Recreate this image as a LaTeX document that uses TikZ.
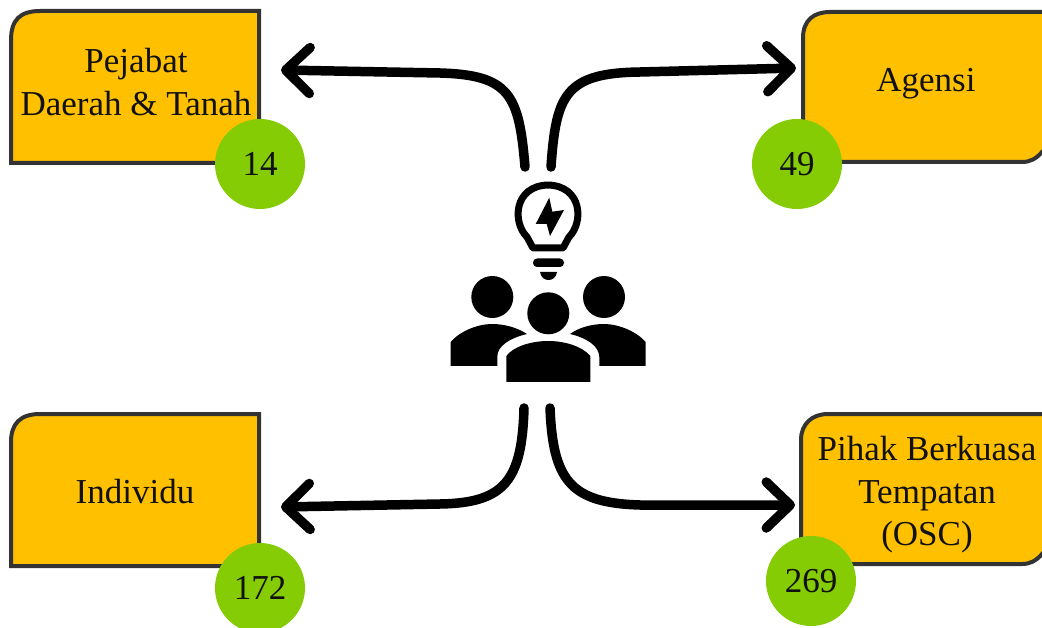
\documentclass[tikz,border=0pt]{standalone}
\usepackage{fontspec}
\setmainfont{Liberation Serif}
\usetikzlibrary{arrows.meta}
\definecolor{boxfill}{HTML}{FFC000}
\definecolor{boxline}{HTML}{333333}
\definecolor{badge}{HTML}{85CC05}
\definecolor{ink}{HTML}{111111}
\tikzset{
  x=1pt,y=-1pt,
  boxshape/.style={draw=boxline,fill=boxfill,line width=4pt,line join=miter},
  boxtext/.style={text=ink,font=\fontsize{35}{42.5}\selectfont,align=center,inner sep=0pt},
  badgenode/.style={circle,fill=badge,minimum size=90pt,inner sep=0pt,text=ink,font=\fontsize{35}{40}\selectfont},
  flow/.style={draw=black,line width=9.5pt,line cap=round,-{Straight Barb[length=24pt,width=46pt,round,line width=9.5pt]}},
  icon/.style={fill=black,draw=none},
  iconline/.style={draw=black,fill=none,line width=7pt,line join=round}
}
\begin{document}
\begin{tikzpicture}
\useasboundingbox (0,0) rectangle (1042,628);
\clip (0,0) rectangle (1042,628);
\fill[white] (0,0) rectangle (1042,628);
% boxes
\draw[boxshape] (11,163) -- (11,40) .. controls (11,20) and (20,11) .. (40,11) -- (259,11) -- (259,163) -- cycle;
\node[boxtext] (pejabat) at (136,82) {Pejabat\\Daerah \& Tanah};
\draw[boxshape] (803,162) -- (803,38) .. controls (803,20) and (814,12) .. (830,12) -- (1060,12) -- (1060,135) -- (1042,152) .. controls (1036,159) and (1030,162) .. (1022,162) -- cycle;
\node[boxtext] (agensi) at (926,84) {Agensi};
\draw[boxshape] (11,566) -- (11,442) .. controls (11,424) and (20,414) .. (40,414) -- (259,414) -- (259,566) -- cycle;
\node[boxtext] (individu) at (135,492) {Individu};
\draw[boxshape] (801,564) -- (801,440) .. controls (801,424) and (812,414) .. (828,414) -- (1060,414) -- (1060,535) -- (1042,554) .. controls (1036,561) and (1030,564) .. (1022,564) -- cycle;
\node[boxtext] (pihak) at (927,495) {Pihak Berkuasa\\Tempatan\\(OSC)};
% badges
\node[badgenode] (b14) at (260,164) {14};
\node[badgenode] (b49) at (797,164) {49};
\node[badgenode] (b172) at (260,588) {172};
\node[badgenode] (b269) at (811,581) {269};
% connector ends
\coordinate (tl) at (525,167);
\coordinate (tr) at (551,167);
\coordinate (bl) at (524,408);
\coordinate (br) at (550,408);
\coordinate (etl) at (281,70);
\coordinate (etr) at (796,68);
\coordinate (ebl) at (281,507);
\coordinate (ebr) at (795,505);
\draw[flow] (tl) .. controls (519,95) and (510,75) .. (440,73) -- (etl);
\draw[flow] (tr) .. controls (556,95) and (565,73) .. (640,72) -- (etr);
\draw[flow] (bl) .. controls (522,480) and (505,503) .. (440,504) -- (ebl);
\draw[flow] (br) .. controls (553,480) and (570,503) .. (640,505) -- (ebr);
% bulb
\draw[iconline] (533,248) -- (527,237) .. controls (512,222) and (514,186) .. (548,185) .. controls (582,186) and (584,222) .. (569,237) -- (563,248) -- cycle;
\fill[icon] (549.3,197.7) -- (535.7,224) -- (546.7,224) -- (550,236) -- (564,210) -- (552.3,211.7) -- cycle;
\fill[icon,rounded corners=4pt] (533,258.5) rectangle (564,267);
\fill[icon] (540,272) -- (557,272) .. controls (556,278) and (552,280) .. (548.5,280) .. controls (545,280) and (541,278) .. (540,272) -- cycle;
% people
\fill[icon] (492.3,297) circle (21);
\fill[icon] (604,297) circle (21);
\fill[icon] (548.3,313.3) circle (21);
\fill[icon] (506.3,382) -- (590.3,382) -- (590.3,356) .. controls (582,346) and (564,341) .. (548.3,341) .. controls (532,341) and (514,346) .. (506.3,356) -- cycle;
\fill[icon] (450.7,366) -- (450.7,342) .. controls (460,331) and (478,324) .. (492,324) .. controls (505,324) and (518,328) .. (527,334) .. controls (510,338) and (497,346) .. (497.3,357) -- (497.3,366) -- cycle;
\fill[icon] (645.7,366) -- (645.7,342) .. controls (636,331) and (618,324) .. (604,324) .. controls (591,324) and (578,328) .. (570,334) .. controls (587,338) and (599,346) .. (599.3,357) -- (599.3,366) -- cycle;
\end{tikzpicture}
\end{document}
